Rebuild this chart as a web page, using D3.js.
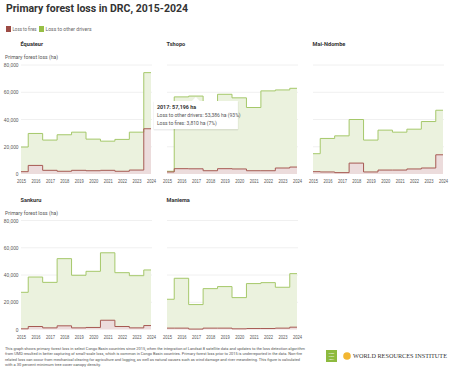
<!DOCTYPE html>
<html>
<head>
<meta charset="utf-8">
<script src="https://cdn.jsdelivr.net/npm/d3@7"></script>
<style>
  html, body { margin: 0; padding: 0; background: #fff; }
  svg { display: block; font-family: "Liberation Sans Narrow", "Roboto", sans-serif; }
  .tick-label { font-size: 4.8px; fill: #555; }
  .grid { stroke: #ececec; stroke-width: 0.8; }
</style>
</head>
<body>
<div id="chart"></div>
<script>
// years on the x axis
const years = [2015, 2016, 2017, 2018, 2019, 2020, 2021, 2022, 2023, 2024];
const regions = ['Équateur', 'Tshopo', 'Mai-Ndombe', 'Sankuru', 'Maniema'];
const yTicks = [0, 20000, 40000, 60000, 80000];

// loss to fires (ha)
const firesEquateur = [1700, 6300, 2700, 2000, 2700, 2400, 2700, 2000, 2900, 33200];
const firesTshopo = [1500, 3900, 3810, 2400, 3900, 3700, 2400, 2400, 4400, 5100];
const firesMaiNdombe = [1700, 1500, 1000, 8000, 1500, 2900, 2900, 3700, 4400, 14100];
const firesSankuru = [500, 2200, 1200, 2700, 1200, 1500, 6800, 2200, 1200, 2900];
const firesManiema = [1000, 1000, 300, 1000, 1000, 500, 700, 700, 1000, 1700];

// loss to other drivers (ha)
const otherEquateur = [18100, 23450, 22200, 26800, 28000, 23200, 21400, 23400, 27800, 41200];
const otherTshopo = [500, 52700, 53386, 50300, 54600, 52200, 46400, 58600, 57300, 57800];
const otherMaiNdombe = [13200, 24600, 27000, 32000, 23400, 29300, 27800, 29200, 34100, 32700];
const otherSankuru = [26800, 36300, 33400, 49300, 38600, 41200, 49500, 39500, 38300, 40800];
const otherManiema = [21200, 36600, 18000, 29000, 30500, 22900, 33000, 33700, 30000, 39300];

const fires = [firesEquateur, firesTshopo, firesMaiNdombe, firesSankuru, firesManiema];
const other = [otherEquateur, otherTshopo, otherMaiNdombe, otherSankuru, otherManiema];

const W = 455, H = 375;
const colors = {
	fireLine: '#a65a52', fireFill: '#ecdcdc', fireKey: '#9c4b45',
	otherLine: '#a5c86a', otherFill: '#ebf2de', otherKey: '#97bf45'
};
const panel = { w: 130, h: 109, colX: [21, 167, 313], rowY: [65, 220.5] };

const svg = d3.select('#chart').append('svg')
	.attr('width', W)
	.attr('height', H)
	.attr('viewBox', `0 0 ${W} ${H}`);

// title + legend
svg.append('text')
	.attr('x', 6).attr('y', 12)
	.attr('font-size', 11).attr('font-weight', 'bold').attr('fill', '#333')
	.attr('textLength', 182).attr('lengthAdjust', 'spacingAndGlyphs')
	.text('Primary forest loss in DRC, 2015-2024');

const legend = svg.append('g').attr('transform', 'translate(6, 26)');
legend.append('rect').attr('width', 5).attr('height', 6).attr('fill', colors.fireKey);
legend.append('text').attr('x', 6.5).attr('y', 5).attr('font-size', 5).attr('fill', '#666')
	.attr('textLength', 24).attr('lengthAdjust', 'spacingAndGlyphs').text('Loss to fires');
legend.append('rect').attr('x', 33).attr('width', 5).attr('height', 6).attr('fill', colors.otherKey);
legend.append('text').attr('x', 39.5).attr('y', 5).attr('font-size', 5).attr('fill', '#666')
	.attr('textLength', 46).attr('lengthAdjust', 'spacingAndGlyphs').text('Loss to other drivers');

const x = d3.scaleLinear().domain([2015, 2024]).range([0, panel.w]);
const y = d3.scaleLinear().domain([0, 80000]).range([panel.h, 0]);

regions.forEach(function (name, i) {
	const col = i < 3 ? i : i - 3;
	const row = i < 3 ? 0 : 1;
	const g = svg.append('g')
		.attr('transform', `translate(${panel.colX[col]}, ${panel.rowY[row]})`);

	const rows = years.map((yr, k) => ({ year: yr, fires: fires[i][k], other: other[i][k] }));
	const series = d3.stack().keys(['fires', 'other'])(rows);

	// panel title
	g.append('text')
		.attr('x', -0.5).attr('y', -19)
		.attr('font-size', 5.6).attr('font-weight', 'bold').attr('fill', '#333')
		.text(name);

	if (col === 0) {
		g.append('text')
			.attr('x', -16).attr('y', -6)
			.attr('font-size', 5).attr('fill', '#555')
			.attr('textLength', 53).attr('lengthAdjust', 'spacingAndGlyphs')
			.text('Primary forest loss (ha)');
	}

	// gridlines
	g.selectAll('.grid')
		.data(yTicks.slice(1))
		.enter().append('line')
		.attr('class', 'grid')
		.attr('x1', 0).attr('x2', panel.w + 1)
		.attr('y1', d => y(d)).attr('y2', d => y(d));

	if (col === 0) {
		g.append('g')
			.call(d3.axisLeft(y).tickValues(yTicks).tickSize(0).tickPadding(2.5).tickFormat(d3.format(',')))
			.call(a => a.select('.domain').remove())
			.call(a => a.selectAll('text').attr('class', 'tick-label').attr('font-family', null).attr('font-size', null));
	}

	// x axis labels
	g.append('g')
		.attr('transform', `translate(0, ${panel.h})`)
		.call(d3.axisBottom(x).tickValues(years).tickSize(0).tickPadding(6).tickFormat(d3.format('d')))
		.call(a => a.select('.domain').remove())
		.call(a => a.selectAll('text').attr('class', 'tick-label').attr('font-family', null).attr('font-size', null)
			.attr('textLength', 9).attr('lengthAdjust', 'spacingAndGlyphs'));

	const area = d3.area()
		.curve(d3.curveStep)
		.x(d => x(d.data.year))
		.y0(d => y(d[0]))
		.y1(d => y(d[1]));
	const line = d3.line()
		.curve(d3.curveStep)
		.x(d => x(d.data.year))
		.y(d => y(d[1]));

	g.append('path').datum(series[1]).attr('d', area).attr('fill', colors.otherFill);
	g.append('path').datum(series[0]).attr('d', area).attr('fill', colors.fireFill);
	g.append('path').datum(series[1]).attr('d', line).attr('fill', 'none')
		.attr('stroke', colors.otherLine).attr('stroke-width', 1);
	g.append('path').datum(series[0]).attr('d', line).attr('fill', 'none')
		.attr('stroke', colors.fireLine).attr('stroke-width', 1);

	// tooltip on Tshopo 2017
	if (name === 'Tshopo') {
		const k = years.indexOf(2017);
		const tot = fires[i][k] + other[i][k];
		const px = x(2017), py = y(tot);
		const tip = g.append('g').attr('transform', `translate(${px}, ${py + 5})`);
		const bx = -42, bw = 84, bh = 28;
		tip.append('rect')
			.attr('x', bx - 0.5).attr('y', 0.5).attr('width', bw + 1).attr('height', bh + 1)
			.attr('fill', '#000').attr('opacity', 0.07).attr('rx', 1);
		tip.append('path')
			.attr('d', `M${bx},0 H-4 L0,-4 L4,0 H${bx + bw} V${bh} H${bx} Z`)
			.attr('fill', '#fff');
		const fmt = d3.format(',');
		tip.append('text').attr('x', bx + 3).attr('y', 8).attr('font-size', 5.4).attr('font-weight', 'bold').attr('fill', '#333')
			.text(`2017: ${fmt(tot)} ha`);
		tip.append('text').attr('x', bx + 3).attr('y', 16).attr('font-size', 5).attr('fill', '#555')
			.text(`Loss to other drivers: ${fmt(other[i][k])} ha (${Math.round(other[i][k] / tot * 100)}%)`);
		tip.append('text').attr('x', bx + 3).attr('y', 23.5).attr('font-size', 5).attr('fill', '#555')
			.text(`Loss to fires: ${fmt(fires[i][k])} ha (${Math.round(fires[i][k] / tot * 100)}%)`);
	}
});

// footnote
const note = [
	'This graph shows primary forest loss in select Congo Basin countries since 2015, when the integration of Landsat 8 satellite data and updates to the loss detection algorithm',
	'from UMD resulted in better capturing of small-scale loss, which is common in Congo Basin countries. Primary forest loss prior to 2015 is underreported in the data. Non-fire',
	'related loss can occur from mechanical clearing for agriculture and logging, as well as natural causes such as wind damage and river meandering. This figure is calculated',
	'with a 30 percent minimum tree cover canopy density.'
];
const noteLen = [300, 297, 295, 96];
svg.append('g').selectAll('text')
	.data(note)
	.enter().append('text')
	.attr('x', 5).attr('y', (d, i) => 350 + i * 5.4)
	.attr('font-size', 4.3).attr('fill', '#555')
	.attr('textLength', (d, i) => noteLen[i]).attr('lengthAdjust', 'spacingAndGlyphs')
	.text(d => d);

// logos
svg.append('rect').attr('x', 326).attr('y', 350).attr('width', 11).attr('height', 12).attr('fill', '#8dba3e');
['GLOBAL', 'FOREST', 'WATCH'].forEach(function (t, i) {
	svg.append('text').attr('x', 331.5).attr('y', 354 + i * 2.8).attr('font-size', 1.5)
		.attr('fill', '#fff').attr('text-anchor', 'middle').text(t);
});
svg.append('circle').attr('cx', 347).attr('cy', 356).attr('r', 3.8).attr('fill', '#f2b632');
svg.append('text').attr('x', 353).attr('y', 358.2).attr('font-size', 5.4)
	.attr('font-family', '"Liberation Serif", serif').attr('fill', '#333')
	.attr('textLength', 94).attr('lengthAdjust', 'spacingAndGlyphs')
	.text('WORLD RESOURCES INSTITUTE');
</script>
</body>
</html>
